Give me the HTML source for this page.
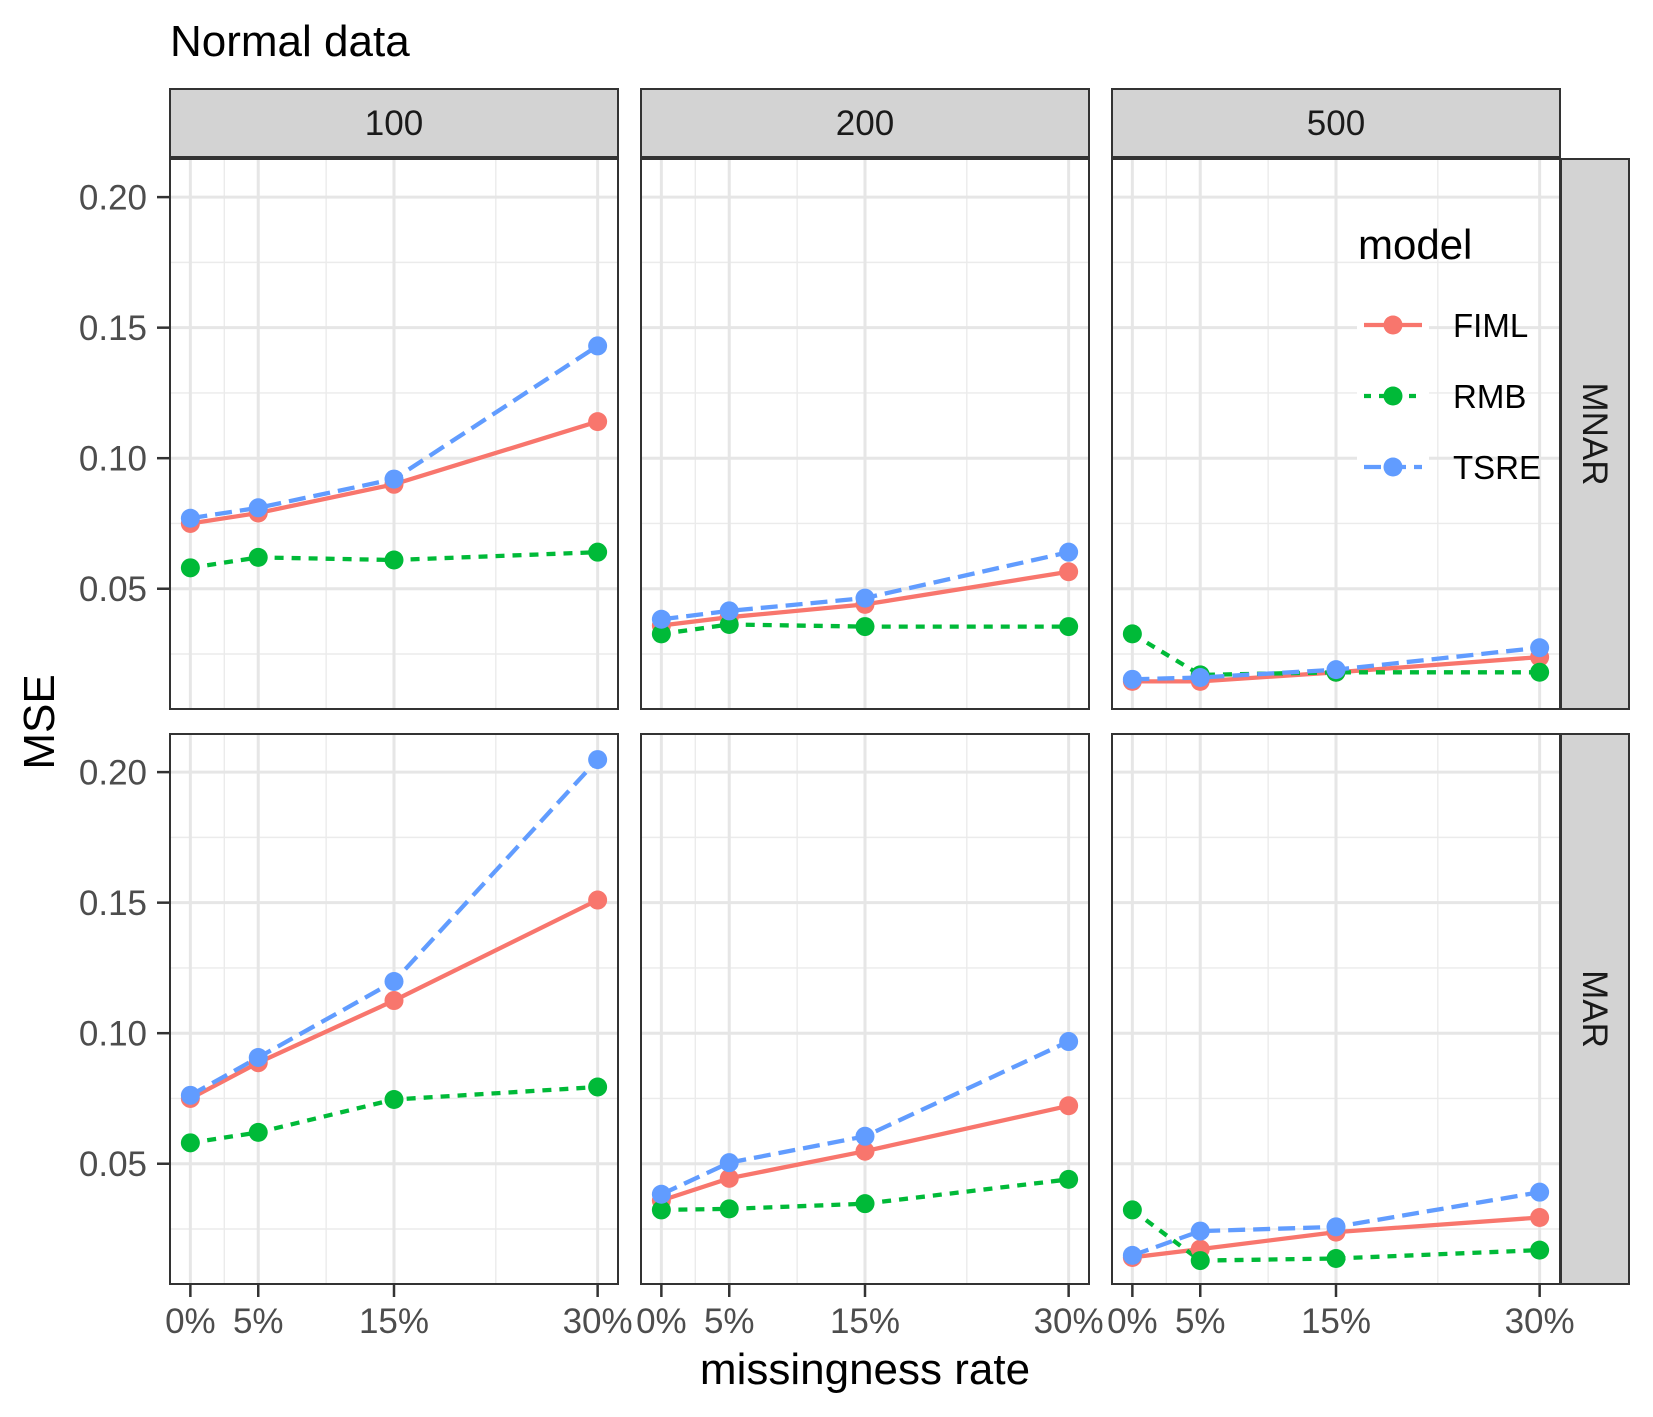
<!DOCTYPE html>
<html><head><meta charset="utf-8"><style>
html,body{margin:0;padding:0;background:#fff;}
svg{display:block;font-family:"Liberation Sans",Arial,sans-serif;}
</style></head><body>
<svg id="chart" width="1653" height="1417" viewBox="0 0 1653 1417" xmlns="http://www.w3.org/2000/svg">
<rect x="0" y="0" width="1653" height="1417" fill="#fff"/>
<text x="170" y="56" font-size="44" fill="#000">Normal data</text>
<text transform="translate(54,722) rotate(-90)" text-anchor="middle" font-size="44" fill="#000">MSE</text>
<text x="865" y="1384" text-anchor="middle" font-size="44" fill="#000">missingness rate</text>
<g id="panels"></g>
<g id="legend"></g>
</svg>
<script>
const rates = [0, 0.05, 0.15, 0.30];
const rateLabels = ['0%', '5%', '15%', '30%'];
const sizes = ['100', '200', '500'];
const mechanisms = ['MNAR', 'MAR'];
const yTicks = [0.05, 0.10, 0.15, 0.20];
const yTickLabels = ['0.05', '0.10', '0.15', '0.20'];
const models = ['FIML', 'RMB', 'TSRE'];
// MNAR
const fiml_MNAR_100 = [0.075, 0.079, 0.090, 0.114];
const rmb_MNAR_100 = [0.058, 0.062, 0.061, 0.064];
const tsre_MNAR_100 = [0.077, 0.081, 0.092, 0.143];
const fiml_MNAR_200 = [0.0359, 0.0391, 0.044, 0.0565];
const rmb_MNAR_200 = [0.0327, 0.0363, 0.0355, 0.0355];
const tsre_MNAR_200 = [0.0383, 0.0415, 0.0464, 0.064];
const fiml_MNAR_500 = [0.0145, 0.0145, 0.018, 0.0238];
const rmb_MNAR_500 = [0.0327, 0.017, 0.018, 0.018];
const tsre_MNAR_500 = [0.0153, 0.016, 0.019, 0.0274];
// MAR
const fiml_MAR_100 = [0.075, 0.0887, 0.1125, 0.151];
const rmb_MAR_100 = [0.058, 0.062, 0.0746, 0.0794];
const tsre_MAR_100 = [0.0762, 0.0907, 0.1198, 0.2048];
const fiml_MAR_200 = [0.0359, 0.0444, 0.0548, 0.0722];
const rmb_MAR_200 = [0.0323, 0.0327, 0.0347, 0.044];
const tsre_MAR_200 = [0.0383, 0.0504, 0.0605, 0.0968];
const fiml_MAR_500 = [0.0141, 0.0173, 0.0238, 0.0294];
const rmb_MAR_500 = [0.0323, 0.0129, 0.0137, 0.0169];
const tsre_MAR_500 = [0.0149, 0.0242, 0.0258, 0.0391];

const seriesData = {
  MNAR: {'100': [fiml_MNAR_100, rmb_MNAR_100, tsre_MNAR_100], '200': [fiml_MNAR_200, rmb_MNAR_200, tsre_MNAR_200], '500': [fiml_MNAR_500, rmb_MNAR_500, tsre_MNAR_500]},
  MAR: {'100': [fiml_MAR_100, rmb_MAR_100, tsre_MAR_100], '200': [fiml_MAR_200, rmb_MAR_200, tsre_MAR_200], '500': [fiml_MAR_500, rmb_MAR_500, tsre_MAR_500]}
};
const colors = ['#F8766D', '#00BA38', '#619CFF'];
const dashes = ['', '9,8', '17,8'];

const NS = 'http://www.w3.org/2000/svg';
function mk(tag, attrs, parent) {
  const e = document.createElementNS(NS, tag);
  for (const k in attrs) e.setAttribute(k, attrs[k]);
  parent.appendChild(e);
  return e;
}
const colX = [170, 641, 1112];
const panelW = 448;
const rowY = [159, 734];
const panelH = 550;
const yMin = 0.00393, yMax = 0.2146;
const xMin = -0.015, xMax = 0.315;
function xs(v, c) { return colX[c] + (v - xMin) / (xMax - xMin) * panelW; }
function ys(v, r) { return rowY[r] + panelH - (v - yMin) / (yMax - yMin) * panelH; }

const g = document.getElementById('panels');
sizes.forEach((s, c) => {
  const strip = mk('rect', {x: colX[c], y: 89, width: panelW, height: 68, fill: '#D3D3D3', stroke: '#333', 'stroke-width': 2}, g);
  
  
  const st = mk('text', {x: colX[c] + panelW / 2, y: 135, 'text-anchor': 'middle', 'font-size': 35, fill: '#1a1a1a'}, g);
  st.textContent = s;
  
  
});
mechanisms.forEach((m, r) => {
  const strip = mk('rect', {x: 1561, y: rowY[r], width: 68, height: panelH, fill: '#D3D3D3', stroke: '#333', 'stroke-width': 2}, g);
  
  
  const cy = rowY[r] + panelH / 2;
  const st = mk('text', {transform: 'translate(1583,' + cy + ') rotate(90)', 'text-anchor': 'middle', 'font-size': 35, fill: '#1a1a1a'}, g);
  st.textContent = m;
  
  
});

mechanisms.forEach((m, r) => {
  sizes.forEach((s, c) => {
    const pg = mk('g', {}, g);
    
    
    mk('rect', {x: colX[c], y: rowY[r], width: panelW, height: panelH, fill: '#fff'}, pg);
    const x0 = colX[c], x1 = colX[c] + panelW, y0 = rowY[r], y1 = rowY[r] + panelH;
    [0.025, 0.075, 0.125, 0.175].forEach(v => { const y = ys(v, r); mk('line', {x1: x0, x2: x1, y1: y, y2: y, stroke: '#EBEBEB', 'stroke-width': 1.4}, pg); });
    for (let i = 0; i < rates.length - 1; i++) { const x = xs((rates[i] + rates[i + 1]) / 2, c); mk('line', {x1: x, x2: x, y1: y0, y2: y1, stroke: '#EBEBEB', 'stroke-width': 1.4}, pg); }
    yTicks.forEach(v => { const y = ys(v, r); mk('line', {x1: x0, x2: x1, y1: y, y2: y, stroke: '#E6E6E6', 'stroke-width': 3}, pg); });
    rates.forEach(v => { const x = xs(v, c); mk('line', {x1: x, x2: x, y1: y0, y2: y1, stroke: '#E6E6E6', 'stroke-width': 3}, pg); });
    const vals = seriesData[m][s];
    vals.forEach((arr, k) => {
      const pts = arr.map((v, i) => xs(rates[i], c).toFixed(1) + ',' + ys(v, r).toFixed(1)).join(' ');
      const pl = mk('polyline', {points: pts, fill: 'none', stroke: colors[k], 'stroke-width': 4.3}, pg);
      if (dashes[k]) pl.setAttribute('stroke-dasharray', dashes[k]);
      
      
    });
    vals.forEach((arr, k) => {
      arr.forEach((v, i) => {
        const pt = mk('circle', {cx: xs(rates[i], c), cy: ys(v, r), r: 9.5, fill: colors[k]}, pg);
        
        
      });
    });
    mk('rect', {x: x0, y: y0, width: panelW, height: panelH, fill: 'none', stroke: '#333', 'stroke-width': 2}, pg);
    if (c === 0) {
      yTicks.forEach((v, i) => {
        const y = ys(v, r);
        mk('line', {x1: 157, x2: 170, y1: y, y2: y, stroke: '#333', 'stroke-width': 2.5}, pg);
        const t = mk('text', {x: 147, y: y + 12.5, 'text-anchor': 'end', 'font-size': 35, fill: '#4d4d4d'}, pg);
        t.textContent = yTickLabels[i];
        
        
      });
    }
    if (r === 1) {
      rates.forEach((v, i) => {
        const x = xs(v, c);
        mk('line', {x1: x, x2: x, y1: 1285, y2: 1297, stroke: '#333', 'stroke-width': 2.5}, pg);
        const t = mk('text', {x: x, y: 1333, 'text-anchor': 'middle', 'font-size': 35, fill: '#4d4d4d'}, pg);
        t.textContent = rateLabels[i];
        
        
      });
    }
  });
});

const lg = document.getElementById('legend');
const lt = mk('text', {x: 1358, y: 259, 'font-size': 42, fill: '#000'}, lg);
lt.textContent = 'model';


const keyY = [325, 396, 467];
models.forEach((m, k) => {
  const eg = mk('g', {}, lg);
  
  
  mk('rect', {x: 1357, y: keyY[k] - 30, width: 72, height: 60, fill: '#fff'}, eg);
  const ln = mk('line', {x1: 1364, x2: 1422, y1: keyY[k], y2: keyY[k], stroke: colors[k], 'stroke-width': 4.3}, eg);
  if (dashes[k]) ln.setAttribute('stroke-dasharray', k === 1 ? '7,8' : '17,8');
  mk('circle', {cx: 1393, cy: keyY[k], r: 9.5, fill: colors[k]}, eg);
  const t = mk('text', {x: 1453, y: keyY[k] + 12, 'font-size': 33, fill: '#000'}, eg);
  t.textContent = m;
});
</script>
</body></html>
